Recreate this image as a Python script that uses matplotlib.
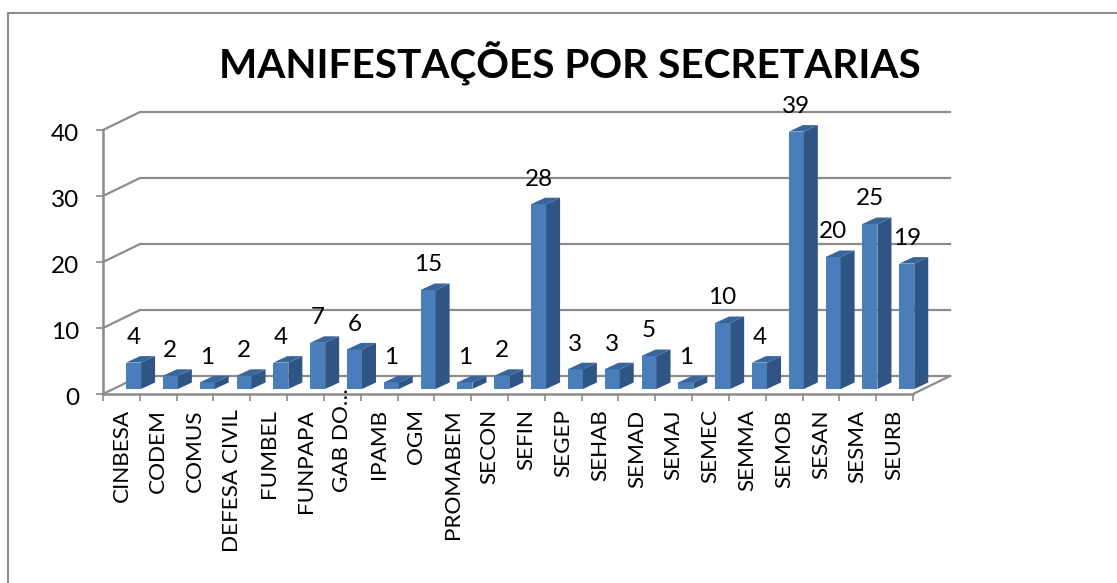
import numpy as np
import matplotlib
matplotlib.use('Agg')
import matplotlib.pyplot as plt
from matplotlib.lines import Line2D
from matplotlib.transforms import ScaledTranslation

# Chart data
secretarias = ['CINBESA', 'CODEM', 'COMUS', 'DEFESA CIVIL', 'FUMBEL', 'FUNPAPA', 'GAB DO…',
               'IPAMB', 'OGM', 'PROMABEM', 'SECON', 'SEFIN', 'SEGEP', 'SEHAB', 'SEMAD',
               'SEMAJ', 'SEMEC', 'SEMMA', 'SEMOB', 'SESAN', 'SESMA', 'SEURB']
manifestacoes = [4, 2, 1, 2, 4, 7, 6, 1, 15, 1, 2, 28, 3, 3, 5, 1, 10, 4, 39, 20, 25, 19]
y_ticks = [0, 10, 20, 30, 40]

plt.rcParams['font.family'] = ['Lato', 'DejaVu Sans']

W, H = 1117, 583
GRAY = '#8c8c8c'
FRONT = '#4a7ebb'
SIDE = '#2f5585'
TOP = '#38659c'

fig = plt.figure(figsize=(W / 100, H / 100), dpi=100)
ax = fig.add_axes([103 / W, 1 - 394 / H, 810 / W, 264 / H])
ax.set_xlim(-0.5, len(secretarias) - 0.5)
ax.set_ylim(0, 40)

# depth of the fake 3D floor, in data units
wall_dx = 37 / 36.8
wall_dy = 18 / 6.6
bar_dx = 14 / 36.8
bar_dy = 6.5 / 6.6
bar_w = 15 / 36.8
bar_x0 = 0.33
bar_y0 = 5 / 6.6

# back wall lines
x_left, x_right = ax.get_xlim()
for t in y_ticks:
    ax.plot([x_left, x_left + wall_dx, x_right + wall_dx], [t, t + wall_dy, t + wall_dy],
            color=GRAY, lw=1.6, clip_on=False, zorder=1)
ax.plot([x_right, x_right + wall_dx], [0, wall_dy], color=GRAY, lw=1.6, clip_on=False, zorder=1)

# bars
x = np.arange(len(secretarias)) + bar_x0
ax.bar(x, manifestacoes, width=bar_w, bottom=bar_y0, color=FRONT, clip_on=False, zorder=3)
for xi, v in zip(x, manifestacoes):
    l = xi - bar_w / 2
    r = xi + bar_w / 2
    b = bar_y0
    t = bar_y0 + v
    ax.fill([r, r + bar_dx, r + bar_dx, r], [b, b + bar_dy, t + bar_dy, t],
            color=SIDE, lw=0, clip_on=False, zorder=3)
    ax.fill([l, r, r + bar_dx, l + bar_dx], [t, t, t + bar_dy, t + bar_dy],
            color=TOP, lw=0, clip_on=False, zorder=3)
    ax.text(xi, t + 3.8, str(v), ha='center', va='center', fontsize=17.5, color='black', zorder=5)

# axes
for s in ['top', 'right']:
    ax.spines[s].set_visible(False)
for s in ['left', 'bottom']:
    ax.spines[s].set_color(GRAY)
    ax.spines[s].set_linewidth(1.8)
ax.patch.set_alpha(0)
ax.set_yticks(y_ticks)
ax.tick_params(axis='y', length=5, width=1.2, color=GRAY, labelsize=17.5, pad=12)
ax.set_xticks(np.arange(len(secretarias)))
ax.set_xticklabels(secretarias, rotation=90, fontsize=16.2, va='top', ha='center')
ax.set_xticks(np.arange(len(secretarias) + 1) - 0.5, minor=True)
ax.tick_params(axis='x', which='major', length=0, pad=11)
ax.tick_params(axis='x', which='minor', length=5, width=1.2, color=GRAY)

# y labels sit a little lower than the tick marks
for lab in ax.get_yticklabels():
    lab.set_transform(lab.get_transform() + ScaledTranslation(0, -1.5 / 72, fig.dpi_scale_trans))

# the truncated label sits higher, its dots reach the axis
gab = ax.get_xticklabels()[6]
gab.set_transform(gab.get_transform() + ScaledTranslation(0, 15 / 72, fig.dpi_scale_trans))

fig.text(570 / W, 1 - 64 / H, 'MANIFESTAÇÕES POR SECRETARIAS', ha='center', va='center',
         fontsize=29.2, fontweight='bold', color='black')

# outer frame, only top and left fall inside the picture
fig.add_artist(Line2D([8 / W, 8 / W, 1], [0, 1 - 13 / H, 1 - 13 / H],
                      transform=fig.transFigure, color=GRAY, lw=1.5))

fig.savefig('out.png', dpi=100)
